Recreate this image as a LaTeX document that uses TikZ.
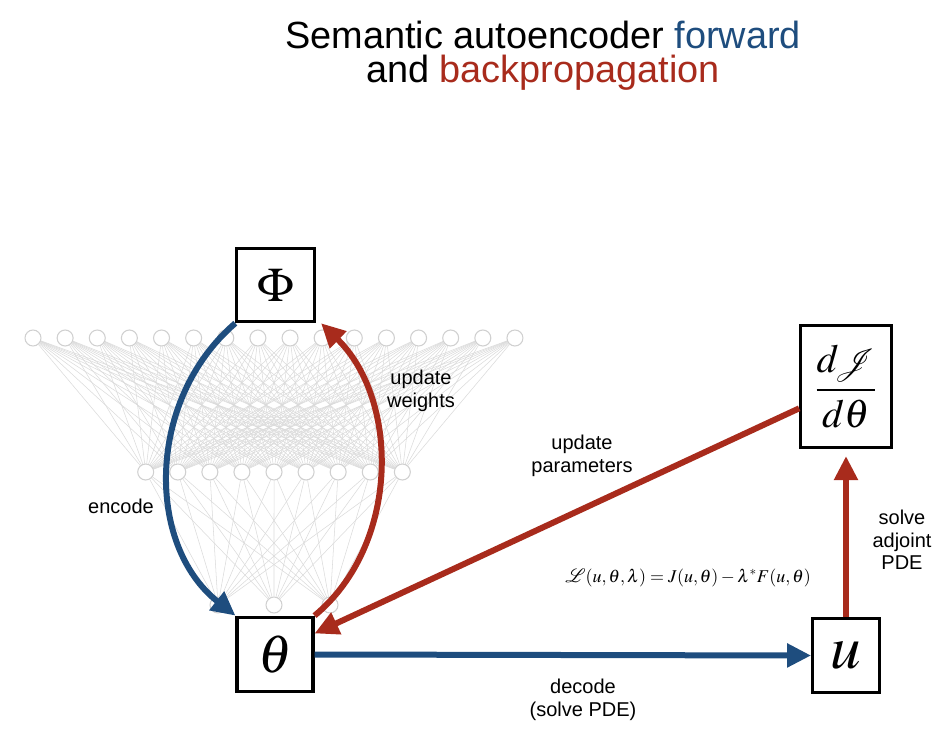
\documentclass[tikz,border=0pt]{standalone}
\usepackage{mathptmx}
\usepackage{mathrsfs}
\usepackage[no-math]{fontspec}
\newfontfamily\labelfont{Liberation Sans}
\usetikzlibrary{arrows.meta,positioning,calc,backgrounds}
\definecolor{FwdBlue}{HTML}{1E4D7E}
\definecolor{BackRed}{HTML}{A82B1C}
\definecolor{NetGrey}{HTML}{D0D0D0}

\begin{document}
\begin{tikzpicture}[x=0.75pt,y=-0.75pt,
  neuron/.style={circle,draw=NetGrey,fill=white,line width=0.8pt,minimum size=12pt,inner sep=0pt},
  synapse/.style={NetGrey!80,line width=0.4pt},
  varbox/.style={draw,line width=2.3pt,fill=white,inner sep=0pt},
  fwd/.style={-{Triangle[length=18pt,width=17pt]},line width=4.5pt,FwdBlue},
  bwd/.style={-{Triangle[length=18pt,width=17pt]},line width=4.5pt,BackRed},
  lbl/.style={font=\labelfont\fontsize{15}{17}\selectfont,align=center},
]
\useasboundingbox (0,0) rectangle (950,756);
% title
\node[anchor=base,align=center,font=\labelfont\fontsize{28.4}{26}\selectfont] (title) at (543,83)
  {Semantic autoencoder \textcolor{FwdBlue}{forward}\\and \textcolor{BackRed}{backpropagation}};
% network in the background
\foreach \i in {0,...,15} \node[neuron] (a\i) at (33+32.13*\i,338) {};
\foreach \j in {0,...,8} \node[neuron] (b\j) at (145.7+32.08*\j,472) {};
\foreach \k in {0,1,2} \node[neuron] (c\k) at (218+56*\k,605) {};
\begin{scope}[on background layer]
\foreach \i in {0,...,15} \foreach \j in {0,...,8} \draw[synapse] (a\i) -- (b\j);
\foreach \j in {0,...,8} \foreach \k in {0,1,2} \draw[synapse] (b\j) -- (c\k);
\end{scope}
% variables
\node[varbox,minimum width=58pt,minimum height=55pt,font=\fontsize{36}{40}\selectfont] (phi) at (275.5,285) {$\Phi$};
\node[varbox,minimum width=57pt,minimum height=56pt,font=\fontsize{40}{44}\selectfont] (theta) at (275,654.5) {$\theta$};
\node[varbox,minimum width=50pt,minimum height=55pt,font=\fontsize{46}{50}\selectfont] (u) at (846,655.5) {$u$};
\node[varbox,minimum width=68pt,minimum height=92pt,font=\fontsize{30}{34}\selectfont] (grad) at (846,386.5) {$\displaystyle\frac{d\!\mathscr{J}}{d\theta}$};
% connectors
\draw[fwd] (phi.south west) .. controls (146,400) and (146,545) .. (theta.north west);
\draw[bwd] (theta.north east) .. controls (400,545) and (400,400) .. ([xshift=4pt]phi.south east);
\draw[bwd] (grad.205) -- (theta.28);
\draw[fwd] (theta.east) -- (u.west);
\draw[bwd,shorten >=5pt] (u.north) -- (grad.south);
% labels
\node[lbl] (encL) at (121,506) {encode};
\node[lbl] (updW) at (421,391) {update\\weights};
\node[lbl] (updP) at (582,456) {update\\parameters};
\node[lbl] (decL) at (583,700) {decode\\(solve PDE)};
\node[lbl] (adjL) at (902,540) {solve\\adjoint\\PDE};
\node[font=\fontsize{13.5}{16}\selectfont] (lagr) at (688,578)
  {$\mathscr{L}(u,\theta,\lambda) = J(u,\theta) - \lambda^{*}F(u,\theta)$};
\end{tikzpicture}
\end{document}
